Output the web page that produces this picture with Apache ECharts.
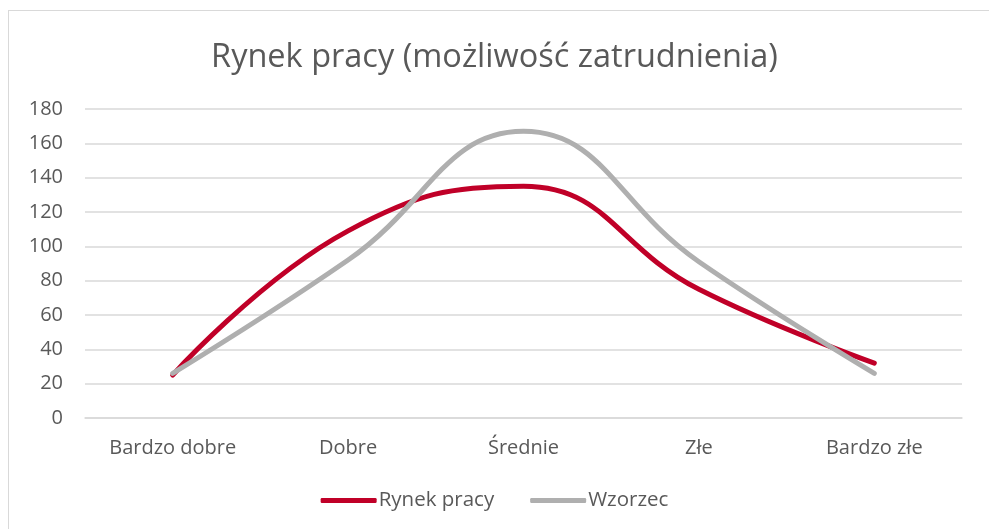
<!DOCTYPE html>
<html>
<head>
<meta charset="utf-8">
<script src="https://cdn.jsdelivr.net/npm/echarts@6/dist/echarts.min.js"></script>
<style>
html, body { margin: 0; padding: 0; background: #fff; }
#frame {
  position: absolute; left: 8px; top: 10px; width: 1000px; height: 540px;
  border: 1px solid #d9d9d9; box-sizing: border-box;
}
#main { position: absolute; left: 0; top: 0; width: 989px; height: 529px; }
</style>
</head>
<body>
<div id="frame"></div>
<div id="main"></div>
<script>
// dane
const categories = ['Bardzo dobre', 'Dobre', 'Średnie', 'Złe', 'Bardzo złe'];
const rynekPracy = [25, 109, 135, 75, 32];
const wzorzec = [26, 92, 167, 91, 26];

const font = '"Open Sans", "Noto Sans", sans-serif';

let chartDom = document.getElementById('main');
let myChart = echarts.init(chartDom);

let option = {
  animation: false,
  title: {
    text: 'Rynek pracy (możliwość zatrudnienia)',
    left: 'center',
    top: 36,
    textStyle: { fontFamily: font, fontWeight: 'normal', fontSize: 32.5, color: '#595959' }
  },
  legend: {
    bottom: 13,
    left: 'center',
    icon: 'roundRect',
    itemWidth: 56,
    itemHeight: 5,
    itemGap: 36,
    textStyle: { fontFamily: font, fontSize: 20.5, color: '#595959', padding: [0, 0, 0, -3] },
    data: ['Rynek pracy', 'Wzorzec']
  },
  grid: { left: 85, right: 27, top: 109, bottom: 111 },
  xAxis: {
    type: 'category',
    data: categories,
    boundaryGap: true,
    axisLine: { show: true, lineStyle: { color: '#d9d9d9', width: 1.5 } },
    axisTick: { show: false },
    axisLabel: { fontFamily: font, fontSize: 20, color: '#595959', margin: 20 }
  },
  yAxis: {
    type: 'value',
    min: 0,
    max: 180,
    interval: 20,
    axisLine: { show: false },
    axisTick: { show: false },
    axisLabel: { fontFamily: font, fontSize: 20, color: '#595959', margin: 22 },
    splitLine: { lineStyle: { color: '#d9d9d9', width: 1.5 } }
  },
  series: [
    {
      name: 'Rynek pracy',
      type: 'line',
      data: rynekPracy,
      smooth: 0.45,
      showSymbol: false,
      lineStyle: { color: '#C00028', width: 5, cap: 'round' },
      itemStyle: { color: '#C00028' }
    },
    {
      name: 'Wzorzec',
      type: 'line',
      data: wzorzec,
      smooth: 0.45,
      showSymbol: false,
      lineStyle: { color: '#AFAFAF', width: 5, cap: 'round' },
      itemStyle: { color: '#AFAFAF' }
    }
  ]
};
option && myChart.setOption(option);
</script>
</body>
</html>
